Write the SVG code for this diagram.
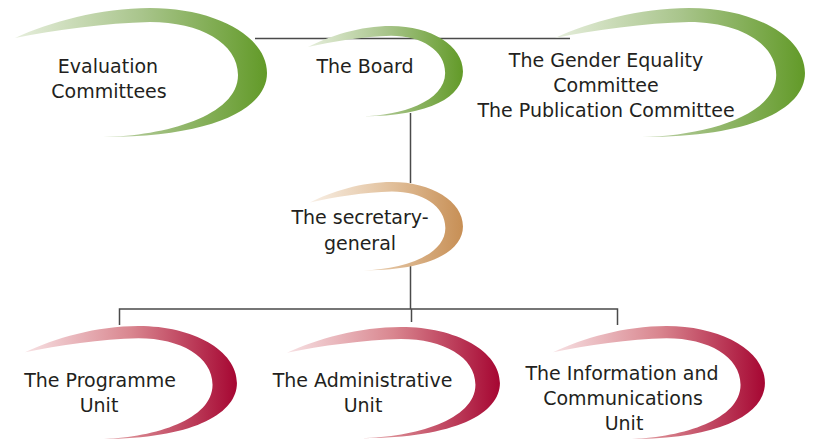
<svg xmlns="http://www.w3.org/2000/svg" width="813" height="439" viewBox="0 0 813 439">
<defs>
<linearGradient id="gGreen" x1="0" y1="0" x2="1" y2="0">
<stop offset="0" stop-color="#e6eedc"/>
<stop offset="0.5" stop-color="#a9c58c"/>
<stop offset="1" stop-color="#629a28"/>
</linearGradient>
<linearGradient id="gTan" x1="0" y1="0" x2="1" y2="0">
<stop offset="0" stop-color="#f8efe5"/>
<stop offset="0.5" stop-color="#e3c3a0"/>
<stop offset="1" stop-color="#c78f55"/>
</linearGradient>
<linearGradient id="gRed" x1="0" y1="0" x2="1" y2="0">
<stop offset="0" stop-color="#f7e1e3"/>
<stop offset="0.5" stop-color="#d9868f"/>
<stop offset="1" stop-color="#a60632"/>
</linearGradient>
<path id="swoosh" d="M 0,30 C 35,14 85,0 135,0 C 200,0 252,28 252,65 C 252,100 200,129 88,129 C 150,128 223,108 223,67 C 223,35 185,14 135,14 C 90,15 40,22 0,30 Z"/>
</defs>
<style>
.conn{stroke:#4a4a4a;stroke-width:1.5;fill:none}
.lbl{font-family:"DejaVu Sans",sans-serif;font-size:19px;fill:#231f20;text-anchor:middle}
</style>
<rect width="813" height="439" fill="#ffffff"/>
<g id="connectors">
<line class="conn" x1="255" y1="38.5" x2="570" y2="38.5"/>
<line class="conn" x1="410.5" y1="113" x2="410.5" y2="183"/>
<line class="conn" x1="410.5" y1="266" x2="410.5" y2="309"/>
<polyline class="conn" points="119.5,325 119.5,309 617.5,309 617.5,325"/>
<line class="conn" x1="411.5" y1="309" x2="411.5" y2="322"/>
</g>
<g id="evaluation">
<use href="#swoosh" fill="url(#gGreen)" transform="translate(15,8)"/>
<text class="lbl" x="108" y="73">Evaluation</text>
<text class="lbl" x="109" y="98">Committees</text>
</g>
<g id="board">
<use href="#swoosh" fill="url(#gGreen)" transform="translate(308,26) scale(0.615,0.7)"/>
<text class="lbl" x="365" y="73">The Board</text>
</g>
<g id="committees">
<use href="#swoosh" fill="url(#gGreen)" transform="translate(555,8) scale(0.992,1)"/>
<text class="lbl" x="606" y="67">The Gender Equality</text>
<text class="lbl" x="606" y="92">Committee</text>
<text class="lbl" x="606" y="117">The Publication Committee</text>
</g>
<g id="secretary">
<use href="#swoosh" fill="url(#gTan)" transform="translate(310,182) scale(0.607,0.685)"/>
<text class="lbl" x="360" y="224">The secretary-</text>
<text class="lbl" x="360" y="250">general</text>
</g>
<g id="programme">
<use href="#swoosh" fill="url(#gRed)" transform="translate(25,326) scale(0.841,0.877)"/>
<text class="lbl" x="100" y="387">The Programme</text>
<text class="lbl" x="99" y="412">Unit</text>
</g>
<g id="administrative">
<use href="#swoosh" fill="url(#gRed)" transform="translate(287,327) scale(0.845,0.862)"/>
<text class="lbl" x="362.5" y="387">The Administrative</text>
<text class="lbl" x="363" y="412">Unit</text>
</g>
<g id="information">
<use href="#swoosh" fill="url(#gRed)" transform="translate(553,326) scale(0.841,0.877)"/>
<text class="lbl" x="622" y="380">The Information and</text>
<text class="lbl" x="623" y="405">Communications</text>
<text class="lbl" x="624" y="430">Unit</text>
</g>
</svg>
